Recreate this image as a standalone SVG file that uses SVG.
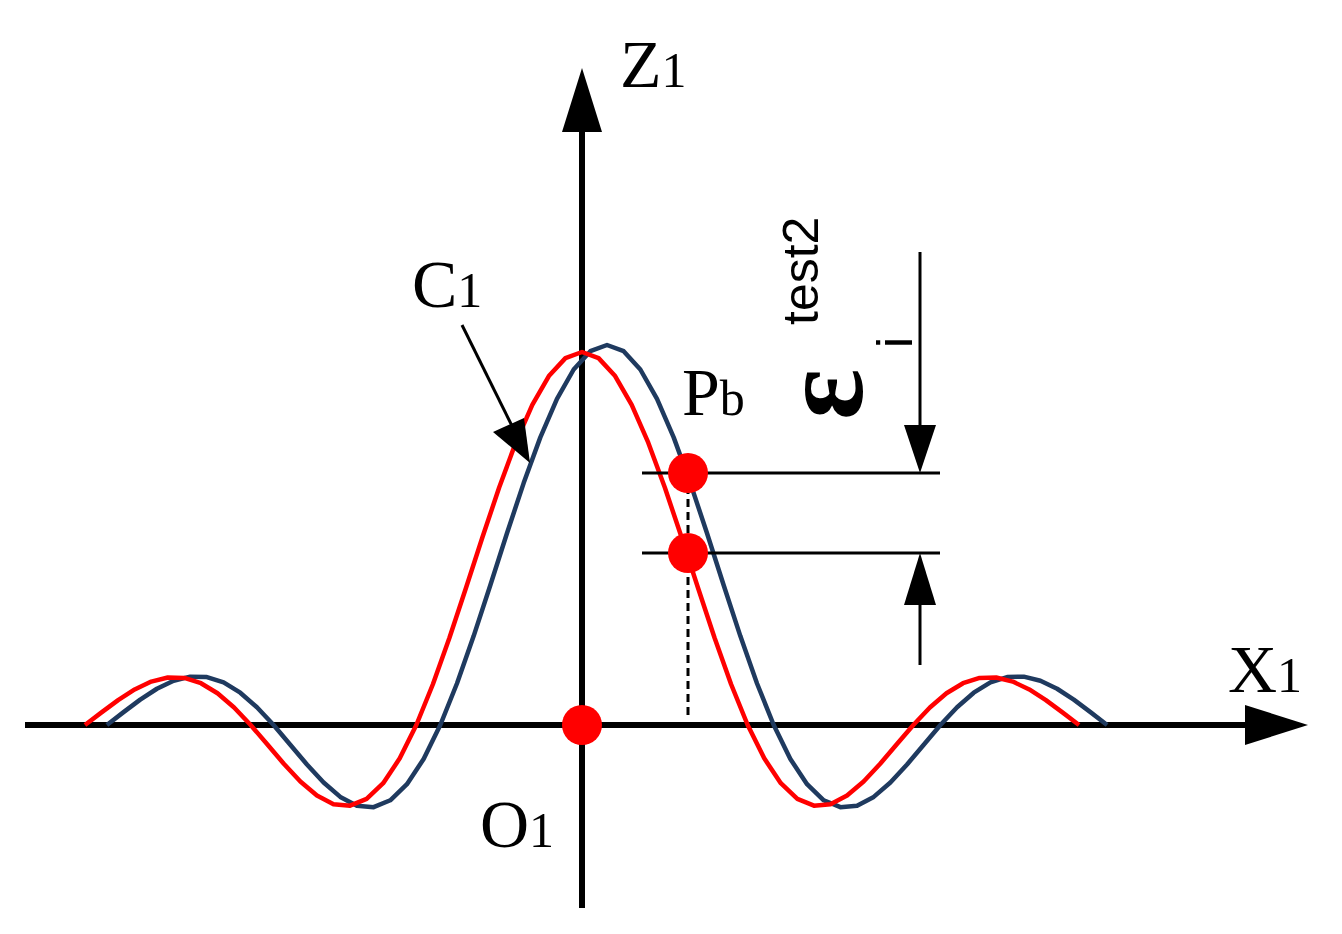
<svg xmlns="http://www.w3.org/2000/svg" xmlns:xlink="http://www.w3.org/1999/xlink" width="1342" height="934" viewBox="0 0 1342 934">
<style>
.ax{stroke:#000;stroke-width:6;fill:none}
.ln{stroke:#000;stroke-width:3;fill:none}
.t{font-family:"Liberation Serif",serif;fill:#000}
.dot{fill:#f00}
</style>
<defs>
<path id="sinc" fill="none" stroke-width="4.5" stroke-linejoin="round" vector-effect="non-scaling-stroke" d="M-30,0 L-29,-33.9 -28,-66.8 -27,-95.4 -26,-116.4 -25,-127.3 -24,-126.1 -23,-112 -22,-85 -21,-46.8 -20,0 -19,51.8 -18,103.9 -17,151.5 -16,189.2 -15,212.2 -14,216.2 -13,198.1 -12,155.9 -11,89.4 -10,0 -9,-109.3 -8,-233.9 -7,-367.9 -6,-504.6 -5,-636.6 -4,-756.9 -3,-858.4 -2,-935.5 -1,-983.6 0,-1000 1,-983.6 2,-935.5 3,-858.4 4,-756.9 5,-636.6 6,-504.6 7,-367.9 8,-233.9 9,-109.3 10,0 11,89.4 12,155.9 13,198.1 14,216.2 15,212.2 16,189.2 17,151.5 18,103.9 19,51.8 20,0 21,-46.8 22,-85 23,-112 24,-126.1 25,-127.3 26,-116.4 27,-95.4 28,-66.8 29,-33.9 30,0"/>
</defs>
<g id="axes">
<line class="ax" x1="25" y1="725" x2="1250" y2="725"/>
<polygon points="1245,705 1308,725 1245,745"/>
<line class="ax" x1="582" y1="908" x2="582" y2="128"/>
<polygon points="562,132 582,68 602,132"/>
</g>
<g id="curves">
<use xlink:href="#sinc" stroke="#1f3a5f" transform="translate(607,725) scale(16.67,0.38)"/>
<use xlink:href="#sinc" stroke="#ff0000" transform="translate(582,725) scale(16.567,0.373)"/>
</g>
<g id="connectors">
<line class="ln" x1="688" y1="473" x2="688" y2="720" stroke-dasharray="8,5"/>
<line class="ln" x1="642" y1="473" x2="940" y2="473"/>
<line class="ln" x1="642" y1="553" x2="940" y2="553"/>
<line class="ln" x1="920" y1="252" x2="920" y2="430"/>
<polygon points="904,425 920,473 936,425"/>
<line class="ln" x1="920" y1="665" x2="920" y2="600"/>
<polygon points="904,605 920,553 936,605"/>
<line class="ln" x1="462" y1="325" x2="515" y2="432"/>
<polygon points="493,432 530,463 524,418"/>
</g>
<g id="dots">
<circle class="dot" cx="582" cy="725" r="20"/>
<circle class="dot" cx="688" cy="473" r="20"/>
<circle class="dot" cx="688" cy="553" r="20"/>
</g>
<g id="labels">
<text class="t" x="620" y="87" font-size="68">Z<tspan font-size="50">1</tspan></text>
<text class="t" x="412" y="307" font-size="68">C<tspan font-size="50">1</tspan></text>
<text class="t" x="682" y="415" font-size="68">P<tspan font-size="50">b</tspan></text>
<text class="t" x="1228" y="692" font-size="68">X<tspan font-size="50">1</tspan></text>
<text class="t" x="480" y="847" font-size="68">O<tspan font-size="50">1</tspan></text>
<g transform="translate(862,420) rotate(-90)">
<text class="t" x="0" y="0" font-size="120" font-weight="bold">ε</text>
<text x="95" y="-44" font-size="50" font-family="Liberation Sans,sans-serif">test2</text>
<text x="72" y="50" font-size="50" font-family="Liberation Sans,sans-serif">i</text>
</g>
</g>
</svg>
